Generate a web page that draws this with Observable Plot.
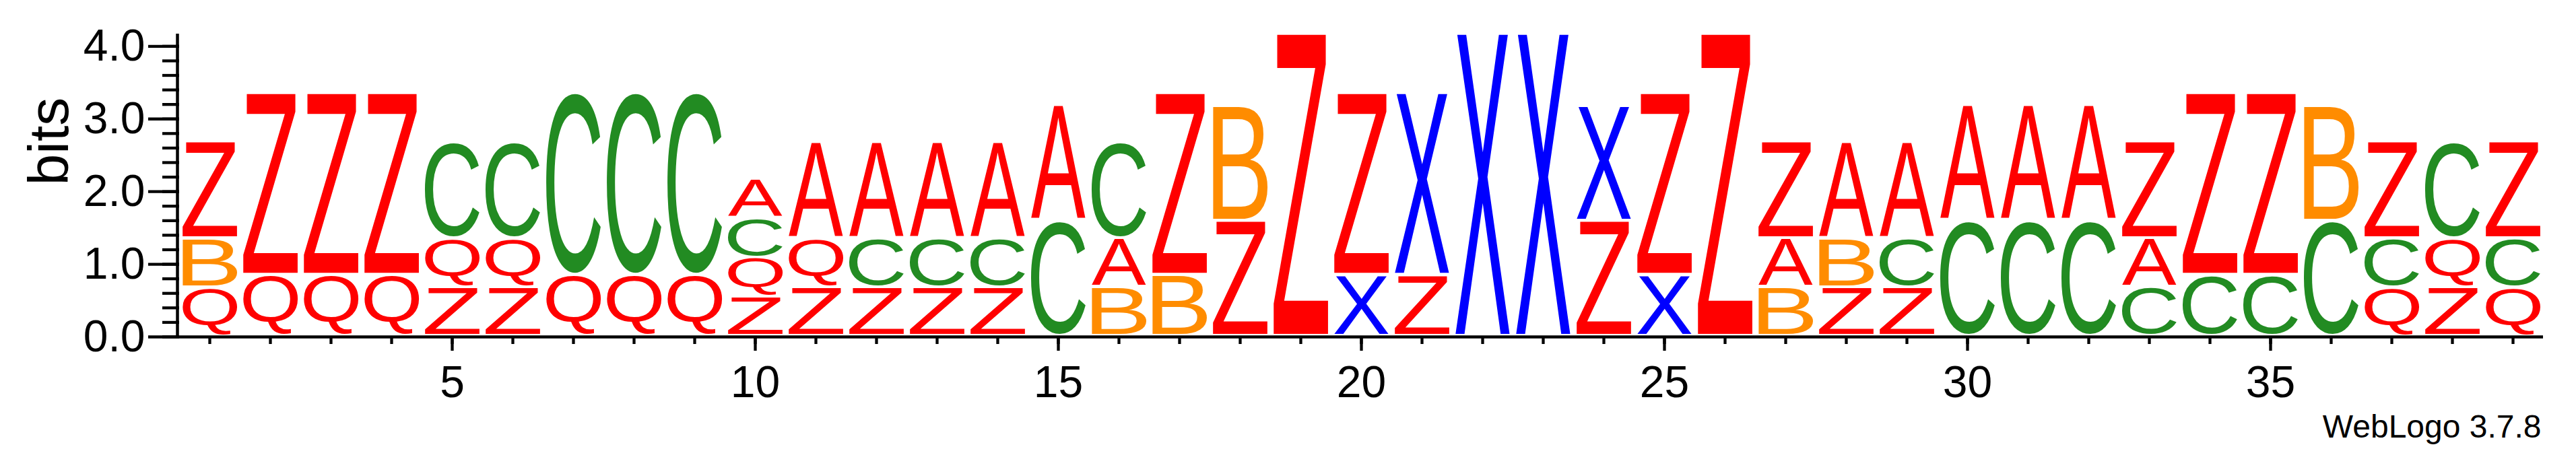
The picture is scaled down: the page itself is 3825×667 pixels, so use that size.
<!DOCTYPE html>
<html>
<head>
<meta charset="utf-8">
<script src="https://cdn.jsdelivr.net/npm/d3@7"></script>
<script src="https://cdn.jsdelivr.net/npm/@observablehq/plot@0.6"></script>
<style>
  body { margin: 0; background: #fff; }
  #logo svg { display: block; }
</style>
</head>
<body>
<div id="logo"></div>
<script>

// sequence positions
const positions = [1, 2, 3, 4, 5, 6, 7, 8, 9, 10, 11, 12, 13, 14, 15, 16, 17, 18, 19, 20,
                   21, 22, 23, 24, 25, 26, 27, 28, 29, 30, 31, 32, 33, 34, 35, 36, 37, 38, 39];

// letters of each stack, bottom to top
const stackLetters = ["QBZ", "QZ", "QZ", "QZ", "ZQC", "ZQC", "QC", "QC", "QC", "ZQCA",
                      "ZQA", "ZCA", "ZCA", "ZCA", "CA", "BAC", "BZ", "ZB", "Z", "XZ",
                      "ZX", "X", "X", "ZX", "XZ", "Z", "BAZ", "ZBA", "ZCA", "CA",
                      "CA", "CA", "CAZ", "CZ", "CZ", "CB", "QCZ", "ZQC", "QCZ"];

// height of each letter (bits), same order as above
const stackBits = [
  [0.67, 0.67, 1.33], [0.84, 2.51], [0.84, 2.51], [0.84, 2.51], [0.67, 0.67, 1.33],
  [0.67, 0.67, 1.33], [0.84, 2.51], [0.84, 2.51], [0.84, 2.51], [0.54, 0.54, 0.54, 0.54],
  [0.67, 0.67, 1.33], [0.67, 0.67, 1.33], [0.67, 0.67, 1.33], [0.67, 0.67, 1.33], [1.58, 1.59],
  [0.67, 0.67, 1.33], [0.84, 2.51], [1.58, 1.59], [4.17], [0.84, 2.51],
  [0.84, 2.51], [4.17], [4.17], [1.58, 1.59], [0.84, 2.51],
  [4.17], [0.67, 0.67, 1.33], [0.67, 0.67, 1.33], [0.67, 0.67, 1.33], [1.58, 1.59],
  [1.58, 1.59], [1.58, 1.59], [0.67, 0.67, 1.33], [0.84, 2.51], [0.84, 2.51],
  [1.58, 1.59], [0.67, 0.67, 1.33], [0.67, 0.67, 1.33], [0.67, 0.67, 1.33]
];

const colorLetters = ["A", "B", "C", "Q", "X", "Z"];
const colorValues = ["#ff0000", "#ff8c00", "#228b22", "#ff0000", "#0000ff", "#ff0000"];

const yMajorTicks = [0, 1, 2, 3, 4];
const yMinorTicks = [0, 0.2, 0.4, 0.6, 0.8, 1, 1.2, 1.4, 1.6, 1.8, 2, 2.2, 2.4, 2.6, 2.8,
                     3, 3.2, 3.4, 3.6, 3.8, 4];
const xMajorTicks = [5, 10, 15, 20, 25, 30, 35];

// one row per letter, stacked
const rows = [];
positions.forEach((p, i) => {
  let base = 0;
  stackLetters[i].split("").forEach((letter, j) => {
    const h = stackBits[i][j];
    rows.push({pos: p, letter: letter, y1: base, y2: base + h});
    base += h;
  });
});

const font = '"Liberation Sans", Arial, sans-serif';

const chart = Plot.plot({
  width: 3825,
  height: 667,
  marginLeft: 266,
  marginRight: 49,
  marginTop: 50,
  marginBottom: 167,
  style: {fontFamily: font, background: "white", color: "black"},
  x: {domain: [0.5, 39.5]},
  y: {domain: [0, 4.17]},
  color: {domain: colorLetters, range: colorValues},
  marks: [
    Plot.text(rows, {x: "pos", y: "y1", text: "letter", fill: "letter", fontSize: 200}),
    Plot.ruleY([0], {strokeWidth: 4.3}),
    Plot.ruleX([0.5], {dx: -3, strokeWidth: 4.5}),
    Plot.axisY({ticks: yMinorTicks, tickSize: 25, tickFormat: () => "", strokeWidth: 4.3, label: null}),
    Plot.axisY({ticks: yMajorTicks, tickSize: 46, tickPadding: 5, tickFormat: d => d.toFixed(1),
                fontSize: 66, strokeWidth: 4.3, label: null}),
    Plot.axisX({ticks: positions, tickSize: 11, tickFormat: () => "", strokeWidth: 4.3, label: null}),
    Plot.axisX({ticks: xMajorTicks, tickSize: 21, tickPadding: 22, fontSize: 66, strokeWidth: 4.3, label: null}),
    Plot.text(["bits"], {frameAnchor: "left", rotate: -90, lineAnchor: "bottom", dx: -166, fontSize: 84}),
    Plot.text(["WebLogo 3.7.8"], {frameAnchor: "bottom-right", textAnchor: "end", lineAnchor: "bottom",
                                 dx: -3, dy: 149, fontSize: 48})
  ]
});

d3.select('#logo').append(() => chart);

// stretch every glyph so its ink fills its box (first text mark = the letters)
const sx = chart.scale("x");
const sy = chart.scale("y");
const glyphSize = 200;
const ctx = document.createElement("canvas").getContext("2d");
ctx.font = `${glyphSize}px ${font}`;

const letterGroup = d3.select(chart).select('g[aria-label="text"]');
letterGroup.attr("text-anchor", "start").attr("font-size", glyphSize);

letterGroup.selectAll("text").each(function(i) {
  const d = rows[i];
  const m = ctx.measureText(d.letter);
  const inkW = m.actualBoundingBoxLeft + m.actualBoundingBoxRight;
  const inkH = m.actualBoundingBoxAscent + m.actualBoundingBoxDescent;
  const left = sx.apply(d.pos - 0.5) + 4.5;
  const right = sx.apply(d.pos + 0.5) - 4.5;
  const bottom = sy.apply(d.y1) - 4.5;
  const top = sy.apply(d.y2);
  const kx = (right - left) / inkW;
  const ky = (bottom - top) / inkH;
  d3.select(this)
    .attr("x", 0)
    .attr("y", 0)
    .attr("text-anchor", "start")
    .attr("font-family", font)
    .attr("font-size", glyphSize)
    .attr("transform", `translate(${left + m.actualBoundingBoxLeft * kx},${bottom - m.actualBoundingBoxDescent * ky}) scale(${kx},${ky})`);
});

</script>
</body>
</html>
